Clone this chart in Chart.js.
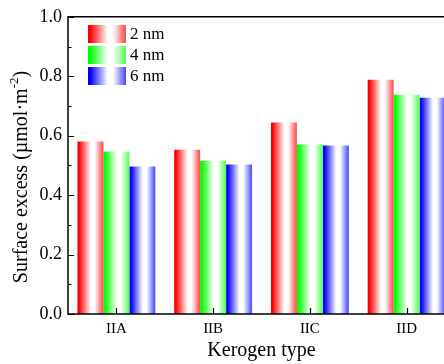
<!DOCTYPE html>
<html>
<head>
<meta charset="utf-8">
<script src="https://cdn.jsdelivr.net/npm/chart.js@4.4.0/dist/chart.umd.min.js"></script>
<style>
  html, body { margin: 0; padding: 0; background: #fff; overflow: hidden; }
  #grafico { display: block; }
</style>
</head>
<body>
<canvas id="grafico" width="455" height="364"></canvas>
<script>
const tipos = ["IIA", "IIB", "IIC", "IID"];
const poros = ["2 nm", "4 nm", "6 nm"];
const exceso2nm = [0.580, 0.553, 0.644, 0.788];
const exceso4nm = [0.547, 0.516, 0.570, 0.738];
const exceso6nm = [0.496, 0.503, 0.567, 0.728];
const ticksY = [0, 0.2, 0.4, 0.6, 0.8, 1.0];

// color pleno, color del borde derecho
const colores = [
  ["rgb(255,0,0)", "rgb(255,70,70)"],
  ["rgb(0,255,0)", "rgb(80,255,80)"],
  ["rgb(0,0,255)", "rgb(70,70,255)"],
];

const fuente = '"Liberation Serif", "Times New Roman", serif';

function degradado(ctx, x0, x1, par) {
  const g = ctx.createLinearGradient(x0, 0, x1, 0);
  g.addColorStop(0, par[0]);
  g.addColorStop(0.06, par[0]);
  g.addColorStop(0.52, "#ffffff");
  g.addColorStop(0.66, "#ffffff");
  g.addColorStop(1, par[1]);
  return g;
}

// pone el degradado horizontal en cada barra
const pluginDegradado = {
  id: "degradado",
  beforeDatasetsDraw(chart) {
    const ctx = chart.ctx;
    chart.data.datasets.forEach((ds, i) => {
      const meta = chart.getDatasetMeta(i);
      meta.data.forEach((barra) => {
        const { x, width } = barra.getProps(["x", "width"], true);
        const g = degradado(ctx, x - width / 2, x + width / 2, colores[i]);
        barra.options = Object.assign({}, barra.options, { backgroundColor: g });
      });
    });
  },
};

// ejes, marcas hacia adentro, leyenda y titulo del eje Y
const pluginEjes = {
  id: "ejes",
  afterDraw(chart) {
    const ctx = chart.ctx;
    const { left, right, top, bottom } = chart.chartArea;
    const escY = chart.scales.y;
    const escX = chart.scales.x;

    ctx.save();
    ctx.strokeStyle = "#000";
    ctx.lineWidth = 1.5;
    ctx.beginPath();
    ctx.rect(left, top, right - left, bottom - top);
    ctx.stroke();

    ctx.lineWidth = 1.2;
    ctx.beginPath();
    for (let v = 0; v <= 10; v++) {
      const y = Math.round(escY.getPixelForValue(v / 10)) + 0.5;
      const largo = v % 2 === 0 ? 6 : 3.5;
      ctx.moveTo(left, y);
      ctx.lineTo(left + largo, y);
    }
    tipos.forEach((t, i) => {
      const x = Math.round(escX.getPixelForValue(i)) + 0.5;
      ctx.moveTo(x, bottom);
      ctx.lineTo(x, bottom - 6);
    });
    ctx.stroke();

    // leyenda
    ctx.font = "17px " + fuente;
    ctx.fillStyle = "#000";
    ctx.textBaseline = "middle";
    ctx.textAlign = "left";
    chart.data.datasets.forEach((ds, i) => {
      const bx = 88, by = 25 + i * 21, bw = 38, bh = 18;
      ctx.fillStyle = degradado(ctx, bx, bx + bw, colores[i]);
      ctx.fillRect(bx, by, bw, bh);
      ctx.fillStyle = "#000";
      ctx.fillText(ds.label, bx + bw + 4, by + bh / 2 + 1);
    });

    // titulo del eje Y con superindice
    const principal = "Surface excess (\u00b5mol\u00b7m";
    const sup = "-2";
    const cierre = ")";
    ctx.font = "20px " + fuente;
    const w1 = ctx.measureText(principal).width;
    const w3 = ctx.measureText(cierre).width;
    ctx.font = "13px " + fuente;
    const w2 = ctx.measureText(sup).width;
    const total = w1 + w2 + w3;
    ctx.translate(22, 177);
    ctx.rotate(-Math.PI / 2);
    ctx.textBaseline = "middle";
    let px = -total / 2;
    ctx.font = "20px " + fuente;
    ctx.fillText(principal, px, 0);
    px += w1;
    ctx.font = "13px " + fuente;
    ctx.fillText(sup, px, -7);
    px += w2;
    ctx.font = "20px " + fuente;
    ctx.fillText(cierre, px, 0);
    ctx.restore();
  },
};

const grafico = new Chart(document.getElementById("grafico"), {
  type: "bar",
  data: {
    labels: tipos,
    datasets: [
      { label: poros[0], data: exceso2nm },
      { label: poros[1], data: exceso4nm },
      { label: poros[2], data: exceso6nm },
    ],
  },
  options: {
    responsive: false,
    animation: false,
    events: [],
    layout: { padding: { top: 16, right: 0, left: 0, bottom: 0 } },
    datasets: {
      bar: { categoryPercentage: 0.805, barPercentage: 1.0, borderWidth: 0 },
    },
    plugins: {
      legend: { display: false },
      tooltip: { enabled: false },
    },
    scales: {
      x: {
        grid: { display: false, drawTicks: false },
        border: { display: false },
        ticks: { color: "#000", font: { family: fuente, size: 15 }, padding: 6 },
        title: {
          display: true,
          text: "Kerogen type",
          color: "#000",
          font: { family: fuente, size: 20 },
          padding: { top: 0, bottom: 1 },
        },
        afterFit(escala) { escala.height = 50; },
      },
      y: {
        min: 0,
        max: 1,
        afterBuildTicks(escala) { escala.ticks = ticksY.map((v) => ({ value: v })); },
        grid: { display: false, drawTicks: false },
        border: { display: false },
        ticks: {
          color: "#000",
          font: { family: fuente, size: 18 },
          padding: 6,
          callback: (v) => Number(v).toFixed(1),
        },
        afterFit(escala) { escala.width = 68; },
      },
    },
  },
  plugins: [pluginDegradado, pluginEjes],
});
</script>
</body>
</html>
